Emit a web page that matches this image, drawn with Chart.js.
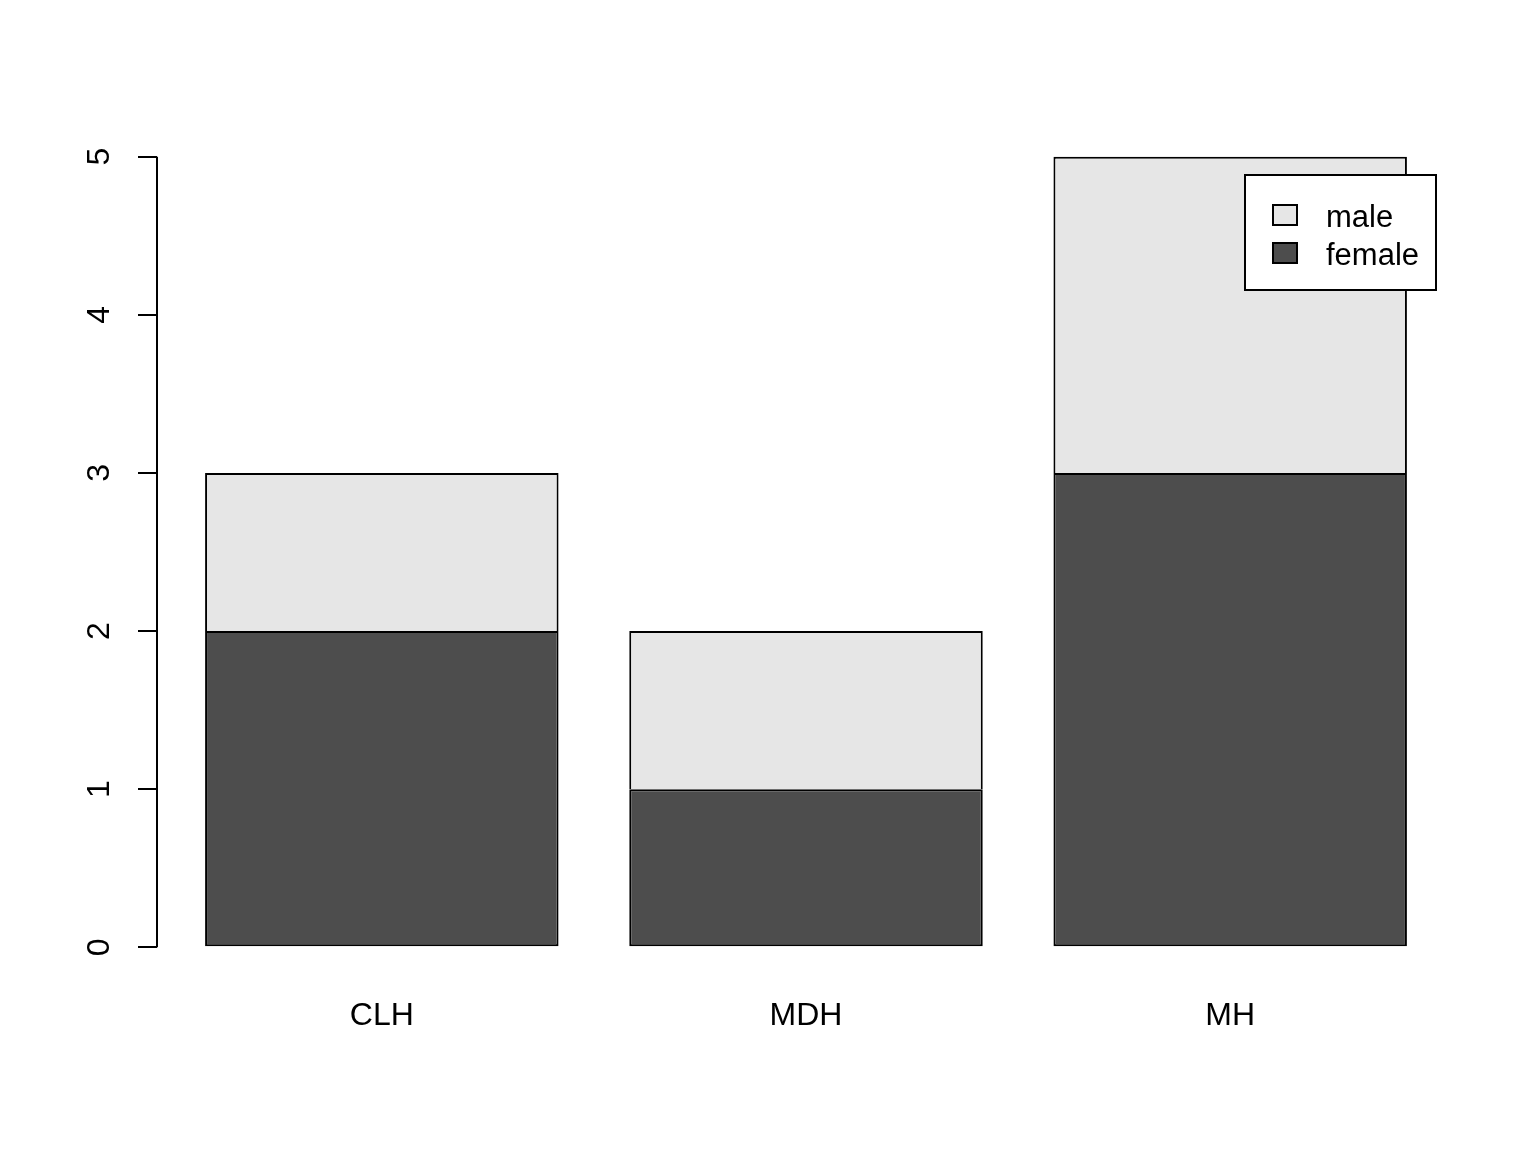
<!DOCTYPE html>
<html>
<head>
<meta charset="utf-8">
<script src="https://cdn.jsdelivr.net/npm/chart.js@4"></script>
<style>
  body { margin: 0; background: #fff; }
  #wrap { width: 1536px; height: 1152px; }
</style>
</head>
<body>
<div id="wrap"><canvas id="graficBarres"></canvas></div>
<script>
const categories = ['CLH', 'MDH', 'MH'];
const female = [2, 1, 3];
const male = [1, 1, 2];
const yTicks = [0, 1, 2, 3, 4, 5];
const legendLabels = ['male', 'female'];

const colorFemale = '#4D4D4D';
const colorMale = '#E6E6E6';
const fontFamily = "'Liberation Sans', Arial, sans-serif";

// posicions com a barplot de R: amplada 1, espai 0.2
const posX = categories.map((c, i) => 0.7 + 1.2 * i);

// eix Y nomes de 0 a 5, etiquetes girades i llegenda amb requadre
const extresR = {
    id: 'extresR',
    afterDraw(chart) {
        const ctx = chart.ctx;
        const y = chart.scales.y;
        const area = chart.chartArea;
        ctx.save();
        ctx.strokeStyle = '#000';
        ctx.lineWidth = 2;
        ctx.beginPath();
        ctx.moveTo(area.left, y.getPixelForValue(yTicks[0]));
        ctx.lineTo(area.left, y.getPixelForValue(yTicks[yTicks.length - 1]));
        ctx.stroke();

        ctx.fillStyle = '#000';
        ctx.font = '32px ' + fontFamily;
        ctx.textAlign = 'center';
        ctx.textBaseline = 'middle';
        yTicks.forEach(v => {
            ctx.save();
            ctx.translate(area.left - 57, y.getPixelForValue(v));
            ctx.rotate(-Math.PI / 2);
            ctx.fillText(String(v), 0, 0);
            ctx.restore();
        });

        const bx = area.right - 19 - 191;
        const by = area.top + 50;
        ctx.fillStyle = '#fff';
        ctx.fillRect(bx, by, 191, 115);
        ctx.strokeRect(bx, by, 191, 115);

        const colors = [colorMale, colorFemale];
        ctx.font = '31px ' + fontFamily;
        ctx.textAlign = 'left';
        legendLabels.forEach((lab, i) => {
            const cy = by + 40 + i * 38;
            ctx.fillStyle = colors[i];
            ctx.fillRect(bx + 28, cy - 10, 24, 20);
            ctx.strokeRect(bx + 28, cy - 10, 24, 20);
            ctx.fillStyle = '#000';
            ctx.fillText(lab, bx + 81, cy + 3);
        });
        ctx.restore();
    }
};

new Chart(document.getElementById('graficBarres'), {
    type: 'bar',
    data: {
        datasets: [
            {
                label: 'female',
                data: posX.map((x, i) => ({ x: x, y: female[i] })),
                backgroundColor: colorFemale,
                borderColor: '#000',
                borderWidth: 2,
                borderSkipped: false
            },
            {
                label: 'male',
                data: posX.map((x, i) => ({ x: x, y: male[i] })),
                backgroundColor: colorMale,
                borderColor: '#000',
                borderWidth: 2,
                borderSkipped: 'start'
            }
        ]
    },
    options: {
        responsive: true,
        maintainAspectRatio: false,
        devicePixelRatio: 1,
        animation: false,
        barPercentage: 1,
        categoryPercentage: 1 / 1.2,
        layout: {
            padding: { top: 125, right: 81, left: 0, bottom: 0 }
        },
        plugins: {
            legend: { display: false },
            tooltip: { enabled: false }
        },
        scales: {
            x: {
                type: 'linear',
                stacked: true,
                offset: false,
                min: 0.064,
                max: 3.736,
                afterBuildTicks: (scale) => {
                    scale.ticks = posX.map(v => ({ value: v }));
                },
                afterFit: (scale) => { scale.height = 173; },
                grid: { display: false, drawTicks: false },
                border: { display: false },
                ticks: {
                    color: '#000',
                    font: { family: fontFamily, size: 32 },
                    padding: 18,
                    maxRotation: 0,
                    callback: (v, i) => categories[i]
                }
            },
            y: {
                stacked: true,
                min: -0.2,
                max: 5.2,
                afterBuildTicks: (scale) => {
                    scale.ticks = yTicks.map(v => ({ value: v }));
                },
                afterFit: (scale) => { scale.width = 157; },
                grid: {
                    drawOnChartArea: false,
                    drawTicks: true,
                    tickLength: 19,
                    tickColor: '#000',
                    lineWidth: 2
                },
                border: { display: false },
                ticks: { display: false }
            }
        }
    },
    plugins: [extresR]
});
</script>
</body>
</html>
